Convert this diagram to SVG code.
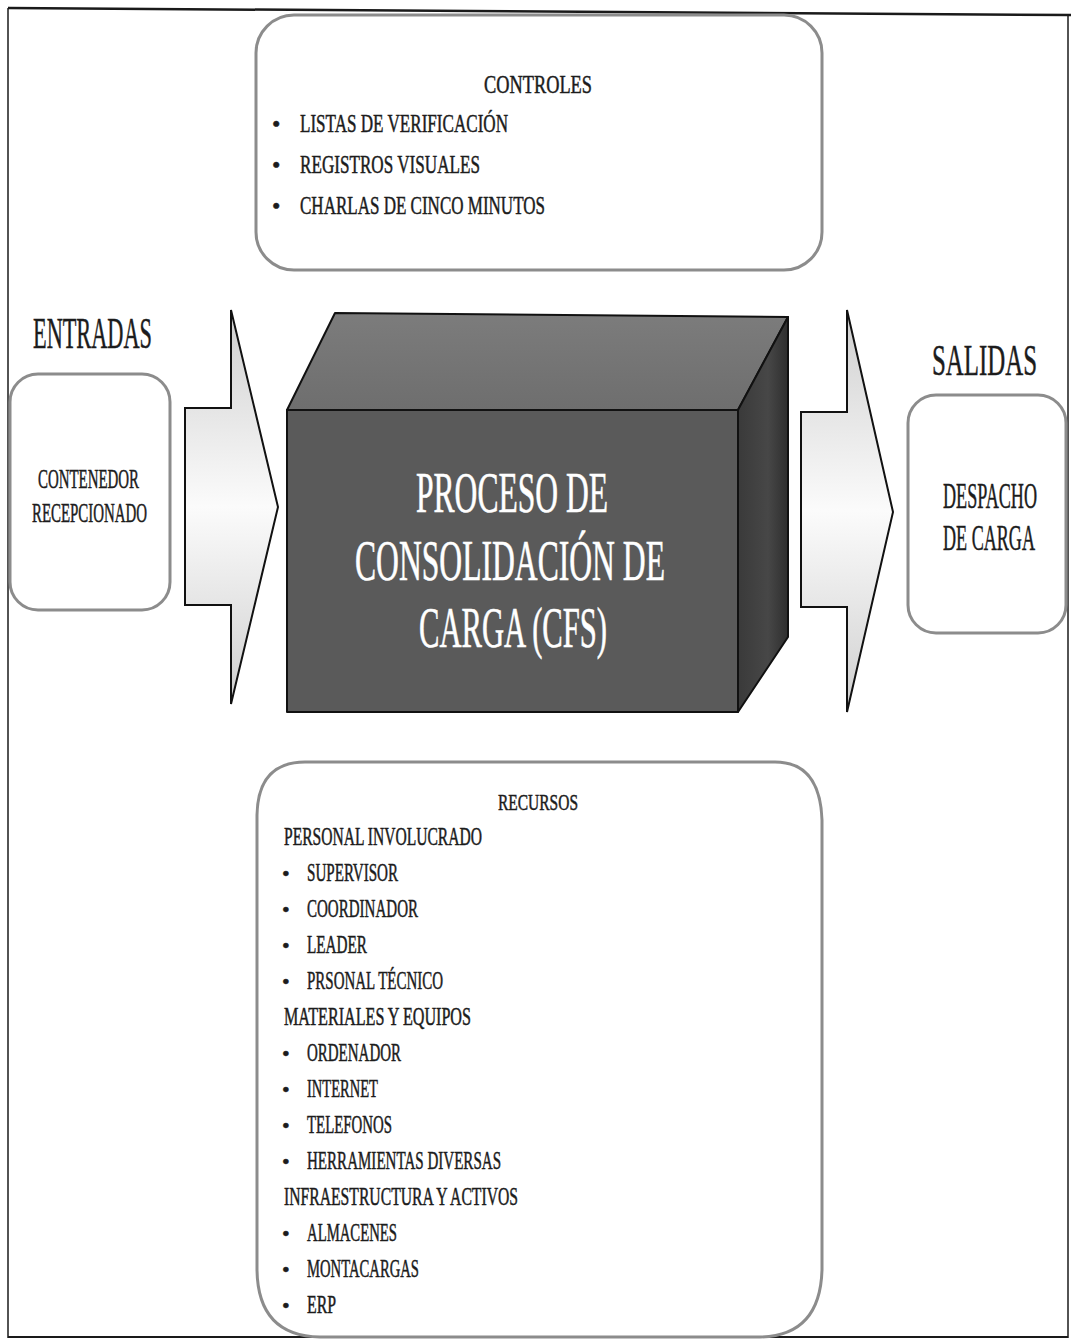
<svg xmlns="http://www.w3.org/2000/svg" width="1071" height="1344" viewBox="0 0 1071 1344">
  <defs>
    <style>
      .txt { font-family: "Liberation Serif", "Times New Roman", serif; fill: #1c1c1c; stroke: #1c1c1c; stroke-width: 0.5; }
      .box { fill: #ffffff; stroke: #8c8c8c; stroke-width: 3; }
      .frame { stroke: #1a1a1a; fill: none; }
      .arrow { fill: url(#arrowFill); stroke: #111111; stroke-width: 2; stroke-linejoin: miter; }
      .edge { stroke: #111111; stroke-width: 2; stroke-linejoin: round; }
      .cubeText { font-family: "Liberation Serif", "Times New Roman", serif; fill: #ffffff; stroke: #ffffff; stroke-width: 0.6; font-size: 56px; }
    </style>
    <linearGradient id="arrowFill" x1="0" y1="0" x2="0" y2="1">
      <stop offset="0" stop-color="#cfcfcf"/>
      <stop offset="0.5" stop-color="#fbfbfb"/>
      <stop offset="1" stop-color="#cfcfcf"/>
    </linearGradient>
    <linearGradient id="sideFill" x1="0" y1="0" x2="1" y2="0">
      <stop offset="0" stop-color="#3a3a3a"/>
      <stop offset="0.6" stop-color="#474747"/>
      <stop offset="1" stop-color="#2e2e2e"/>
    </linearGradient>
    <linearGradient id="topFill" x1="0" y1="0" x2="0" y2="1">
      <stop offset="0" stop-color="#7c7c7c"/>
      <stop offset="1" stop-color="#6e6e6e"/>
    </linearGradient>
  </defs>

  <rect width="1071" height="1344" fill="#ffffff"/>

  <!-- outer frame -->
  <g id="frame">
    <line class="frame" x1="8" y1="8" x2="1071" y2="15" stroke-width="2.5"/>
    <line class="frame" x1="8" y1="8" x2="8" y2="1338" stroke-width="1.5"/>
    <line class="frame" x1="1068" y1="14" x2="1068" y2="1338" stroke-width="1.5"/>
    <line class="frame" x1="8" y1="1337" x2="1068" y2="1337" stroke-width="2"/>
  </g>

  <!-- controls -->
  <g id="controles">
    <rect class="box" x="256" y="15" width="566" height="255" rx="38" ry="38"/>
    <text class="txt" x="484" y="93" font-size="26" textLength="108" lengthAdjust="spacingAndGlyphs">CONTROLES</text>
    <text class="txt" x="272" y="132" font-size="24">•</text>
    <text class="txt" x="300" y="132" font-size="26" textLength="208" lengthAdjust="spacingAndGlyphs">LISTAS DE VERIFICACIÓN</text>
    <text class="txt" x="272" y="173" font-size="24">•</text>
    <text class="txt" x="300" y="173" font-size="26" textLength="180" lengthAdjust="spacingAndGlyphs">REGISTROS VISUALES</text>
    <text class="txt" x="272" y="214" font-size="24">•</text>
    <text class="txt" x="300" y="214" font-size="26" textLength="245" lengthAdjust="spacingAndGlyphs">CHARLAS DE CINCO MINUTOS</text>
  </g>

  <!-- inputs -->
  <g id="entradas">
    <text class="txt" x="33" y="348" font-size="45" textLength="119" lengthAdjust="spacingAndGlyphs">ENTRADAS</text>
    <rect class="box" x="10" y="374" width="160" height="236" rx="28" ry="28"/>
    <text class="txt" x="38" y="488" font-size="27" textLength="101" lengthAdjust="spacingAndGlyphs">CONTENEDOR</text>
    <text class="txt" x="32" y="522" font-size="27" textLength="115" lengthAdjust="spacingAndGlyphs">RECEPCIONADO</text>
  </g>

  <!-- outputs (narrow labels drawn half-width) -->
  <g id="salidas">
    <text class="txt" transform="translate(932,375) scale(0.55,1)" font-size="45" textLength="191" lengthAdjust="spacingAndGlyphs">SALIDAS</text>
    <rect class="box" x="908" y="395" width="158" height="238" rx="28" ry="28"/>
    <text class="txt" transform="translate(943,508) scale(0.5,1)" font-size="36" textLength="188" lengthAdjust="spacingAndGlyphs">DESPACHO</text>
    <text class="txt" transform="translate(943,550) scale(0.5,1)" font-size="36" textLength="184" lengthAdjust="spacingAndGlyphs">DE CARGA</text>
  </g>

  <!-- block arrows -->
  <g id="connectors">
    <polygon class="arrow" points="185,408 231,408 231,310 278,507 231,704 231,605 185,605"/>
    <polygon class="arrow" points="801,412 847,412 847,310 893,512 847,712 847,607 801,607"/>
  </g>

  <!-- central process block -->
  <g id="proceso">
    <polygon class="edge" fill="url(#topFill)" points="287,410 335,313 788,317 738,410"/>
    <polygon class="edge" fill="url(#sideFill)" points="738,410 788,317 788,637 738,712"/>
    <rect class="edge" x="287" y="410" width="451" height="302" fill="#5a5a5a"/>
    <text class="cubeText" x="416" y="512" textLength="192" lengthAdjust="spacingAndGlyphs">PROCESO DE</text>
    <text class="cubeText" x="355" y="580" textLength="310" lengthAdjust="spacingAndGlyphs">CONSOLIDACIÓN DE</text>
    <text class="cubeText" x="419" y="647" textLength="188" lengthAdjust="spacingAndGlyphs">CARGA (CFS)</text>
  </g>

  <!-- resources -->
  <g id="recursos">
    <path class="box" d="M 305,762 L 775,762 Q 820,762 822,820 L 822,1270 Q 820,1336 760,1337 L 320,1337 Q 258,1336 257,1270 L 257,815 Q 258,762 305,762 Z"/>
    <text class="txt" x="498" y="810" font-size="23" textLength="80" lengthAdjust="spacingAndGlyphs">RECURSOS</text>
    <text class="txt" x="284" y="845" font-size="25" textLength="198" lengthAdjust="spacingAndGlyphs">PERSONAL INVOLUCRADO</text>
    <text class="txt" x="282" y="881" font-size="22">•</text>
    <text class="txt" x="307" y="881" font-size="25" textLength="91" lengthAdjust="spacingAndGlyphs">SUPERVISOR</text>
    <text class="txt" x="282" y="917" font-size="22">•</text>
    <text class="txt" x="307" y="917" font-size="25" textLength="111" lengthAdjust="spacingAndGlyphs">COORDINADOR</text>
    <text class="txt" x="282" y="953" font-size="22">•</text>
    <text class="txt" x="307" y="953" font-size="25" textLength="60" lengthAdjust="spacingAndGlyphs">LEADER</text>
    <text class="txt" x="282" y="989" font-size="22">•</text>
    <text class="txt" x="307" y="989" font-size="25" textLength="136" lengthAdjust="spacingAndGlyphs">PRSONAL TÉCNICO</text>
    <text class="txt" x="284" y="1025" font-size="25" textLength="187" lengthAdjust="spacingAndGlyphs">MATERIALES Y EQUIPOS</text>
    <text class="txt" x="282" y="1061" font-size="22">•</text>
    <text class="txt" x="307" y="1061" font-size="25" textLength="94" lengthAdjust="spacingAndGlyphs">ORDENADOR</text>
    <text class="txt" x="282" y="1097" font-size="22">•</text>
    <text class="txt" x="307" y="1097" font-size="25" textLength="71" lengthAdjust="spacingAndGlyphs">INTERNET</text>
    <text class="txt" x="282" y="1133" font-size="22">•</text>
    <text class="txt" x="307" y="1133" font-size="25" textLength="85" lengthAdjust="spacingAndGlyphs">TELEFONOS</text>
    <text class="txt" x="282" y="1169" font-size="22">•</text>
    <text class="txt" x="307" y="1169" font-size="25" textLength="194" lengthAdjust="spacingAndGlyphs">HERRAMIENTAS  DIVERSAS</text>
    <text class="txt" x="284" y="1205" font-size="25" textLength="234" lengthAdjust="spacingAndGlyphs">INFRAESTRUCTURA Y ACTIVOS</text>
    <text class="txt" x="282" y="1241" font-size="22">•</text>
    <text class="txt" x="307" y="1241" font-size="25" textLength="90" lengthAdjust="spacingAndGlyphs">ALMACENES</text>
    <text class="txt" x="282" y="1277" font-size="22">•</text>
    <text class="txt" x="307" y="1277" font-size="25" textLength="112" lengthAdjust="spacingAndGlyphs">MONTACARGAS</text>
    <text class="txt" x="282" y="1313" font-size="22">•</text>
    <text class="txt" x="307" y="1313" font-size="25" textLength="29" lengthAdjust="spacingAndGlyphs">ERP</text>
  </g>
</svg>
